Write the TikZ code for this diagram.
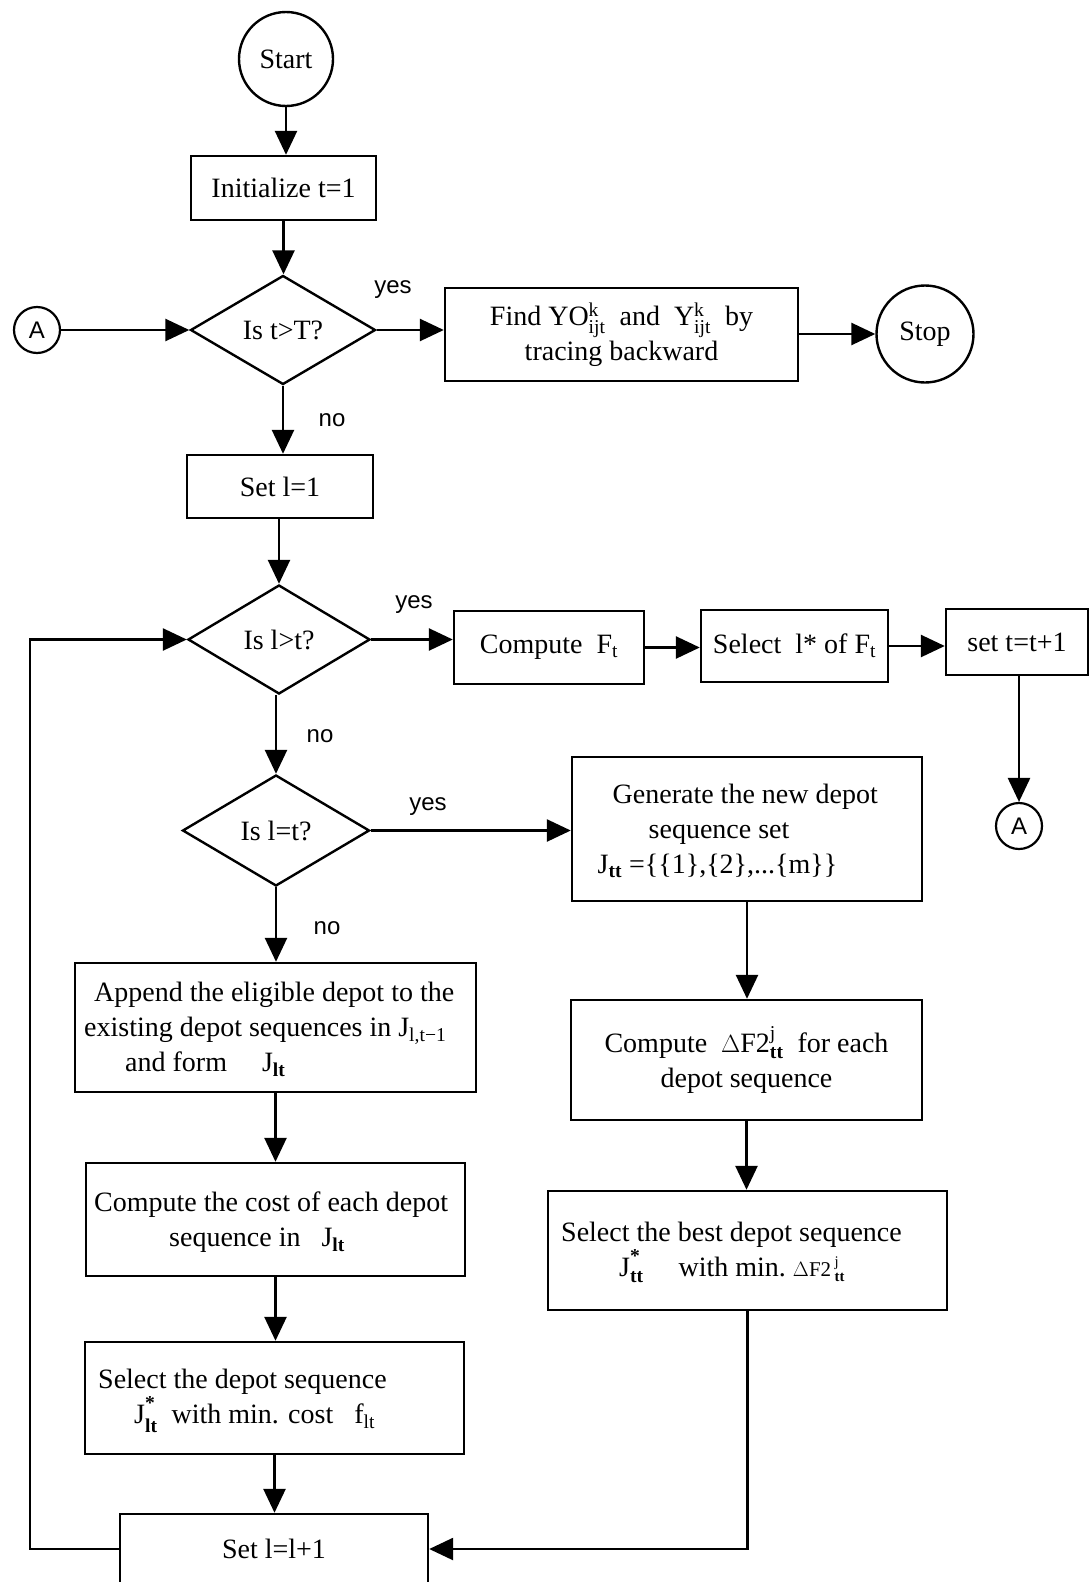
\documentclass[tikz,border=0pt]{standalone}
\usepackage{fontspec}
\usepackage{amsmath}
\setmainfont{Liberation Serif}
\newfontfamily\labelfont{Liberation Sans}
\usetikzlibrary{arrows.meta,shapes.geometric}
\newcommand\bodysize{\fontsize{28}{35}\selectfont}
\newcommand\smallsize{\fontsize{21}{25}\selectfont}
% raised bold star used as the optimum marker
\newcommand\optstar{\text{\raisebox{5pt}{\bfseries *}}}
\begin{document}
\begin{tikzpicture}[x=1pt,y=-1pt,
  box/.style 2 args={draw, line width=2.4pt, inner sep=0pt, font=\bodysize, align=center,
                     minimum width=#1pt, minimum height=#2pt},
  txt/.style={inner sep=0pt, font=\bodysize, align=left, anchor=west},
  decision/.style={diamond, draw, line width=2.4pt, inner sep=0pt, font=\bodysize},
  terminal/.style={circle, draw, line width=2.4pt, inner sep=0pt, font=\bodysize},
  connector/.style={circle, draw, line width=2.2pt, inner sep=0pt, minimum size=46pt, font=\labelfont\fontsize{24}{28}\selectfont},
  answer/.style={font=\labelfont\fontsize{24}{28}\selectfont, inner sep=0pt},
  flow/.style={line width=2.6pt, -{Triangle[length=24pt,width=22pt]}}]
\useasboundingbox (0,0) rectangle (1092,1582);
\clip (0,0) rectangle (1092,1582);

% ---- main column ----
\node[terminal, minimum size=94pt] (start) at (286,59) {Start};
\node[box={185}{64}] (init) at (283.5,188) {Initialize t=1};
\node[decision, minimum width=185pt, minimum height=109pt] (d1) at (283,330) {Is t>T?};
\node[connector] (aL) at (37,330) {A};
\node[box={353}{93}] (find) at (621.5,334.5)
  {Find YO$^{\text{k}}_{\text{ijt}}$\ \ and\ \ Y$^{\text{k}}_{\text{ijt}}$\ \ by\\tracing backward};
\node[terminal, minimum size=97pt] (stop) at (925,334) {Stop};
\node[box={186}{63}] (set1) at (280,486.5) {Set l=1};

\node[decision, minimum width=182pt, minimum height=109pt] (d2) at (279,639.5) {Is l>t?};
\node[box={190}{73}] (compf) at (549,647.5) {Compute\ \ F$_{\text{t}}$};
\node[box={187}{72}] (sell) at (794.5,646) {Select\ \ l* of\ F$_{\text{t}}$};
\node[box={142}{66}] (sett) at (1017,642) {set t=t+1};
\node[connector] (aR) at (1019,826) {A};

\node[decision, minimum width=187pt, minimum height=111pt] (d3) at (276,830.5) {Is l=t?};

% ---- right branch ----
\node[box={350}{144}] (gen) at (747,829) {};
\node[txt] (gen-t) at (597.5,831)
  {\hspace*{15pt}Generate the new depot\\
   \hspace*{51pt}sequence set\\
   J$_{\text{\bfseries tt}}$ =\{\{1\},\{2\},...\{m\}\}};
\node[box={351}{120}] (df) at (746.5,1060)
  {Compute\ \ $\Delta$F2$^{\text{j}}_{\text{\bfseries tt}}$\ \ for each\\depot sequence};
\node[box={399}{119}] (selbest) at (747.5,1250.5) {};
\node[txt] (selbest-t) at (561,1252.5)
  {Select the best depot sequence\\
   \hspace*{58pt}J$^{\optstar}_{\text{\bfseries tt}}$\quad\ with min.\ {\smallsize $\Delta$F2\,$^{\text{j}}_{\text{\bfseries tt}}$}};

% ---- left branch ----
\node[box={401}{129}] (append) at (275.5,1027.5) {};
\node[txt] (append-t) at (84,1029)
  {\hspace*{10pt}Append the eligible depot to the\\
   existing depot sequences in J$_{\text{l,t−1}}$\\
   \hspace*{41pt}and form\quad\ J$_{\text{\bfseries lt}}$};
\node[box={379}{113}] (compcost) at (275.5,1219.5) {};
\node[txt] (compcost-t) at (94,1222)
  {Compute the cost of each depot\\
   \hspace*{75pt}sequence in\ \ \ J$_{\text{\bfseries lt}}$};
\node[box={379}{112}] (seldepot) at (274.5,1398) {};
\node[txt] (seldepot-t) at (98,1401)
  {Select the depot sequence\\
   \hspace*{36pt}J$^{\optstar}_{\text{\bfseries lt}}$\ \ with min. cost\ \ \ f$_{\text{lt}}$};
\node[box={308}{70}] (setl1) at (274,1549) {Set l=l+1};

% ---- branch labels ----
\node[answer] (yes1) at (393,290) {yes};
\node[answer] (no1) at (332,420) {no};
\node[answer] (yes2) at (414,605) {yes};
\node[answer] (no2) at (320,736) {no};
\node[answer] (yes3) at (428,807) {yes};
\node[answer] (no3) at (327,928.5) {no};

% ---- connectors ----
\draw[flow] (start.south) -- (start.south |- init.north);
\draw[flow] (init.south) -- (init.south |- d1.north);
\draw[flow] (aL.east) -- (d1.west);
\draw[flow] (d1.east) -- (d1.east -| find.west);
\draw[flow] (find.east |- stop.west) -- (stop.west);
\draw[flow] (d1.south) -- (d1.south |- set1.north);
\draw[flow] (set1.south -| d2.north) -- (d2.north);
\draw[flow] (d2.east) -- (d2.east -| compf.west);
\draw[flow] (compf.east) -- (compf.east -| sell.west);
\draw[flow] (sell.east) -- (sell.east -| sett.west);
\draw[flow] (sett.south -| aR.north) -- (aR.north);
\draw[flow] (d2.south -| d3.north) -- (d3.north);
\draw[flow] (d3.east) -- (d3.east -| gen.west);
\draw[flow] (d3.south) -- (d3.south |- append.north);
\draw[flow] (append.south) -- (append.south |- compcost.north);
\draw[flow] (compcost.south) -- (compcost.south |- seldepot.north);
\draw[flow] (seldepot.south) -- (seldepot.south |- setl1.north);
\draw[flow] (gen.south) -- (gen.south |- df.north);
\draw[flow] (df.south) -- (df.south |- selbest.north);
\draw[flow] (selbest.south) |- (setl1.east);
\coordinate (loopL) at (30,1549);
\draw[flow] (setl1.west) -- (loopL) |- (d2.west);
\end{tikzpicture}
\end{document}
